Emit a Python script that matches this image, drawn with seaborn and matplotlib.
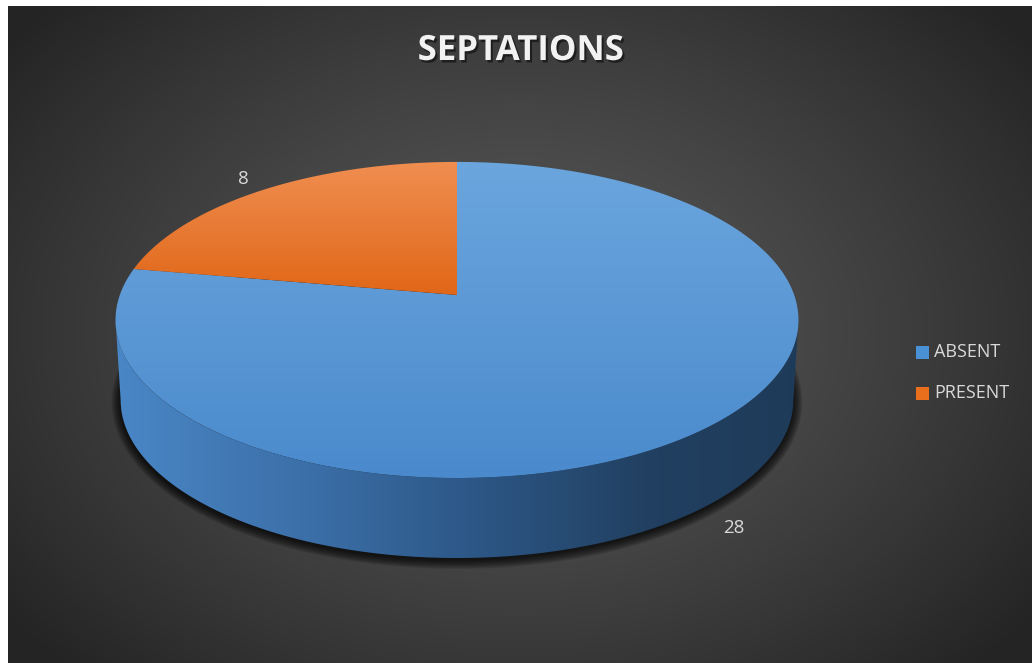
import numpy as np
import matplotlib
matplotlib.use("Agg")
import matplotlib.pyplot as plt
import matplotlib.patheffects as pe
from matplotlib.patches import Polygon, Rectangle
import seaborn as sns

# ---- data ----
categories = ["ABSENT", "PRESENT"]
counts = [28, 8]
title_text = "SEPTATIONS"

sns.set_theme(style="white")
plt.rcParams["font.family"] = ["Open Sans", "DejaVu Sans"]

W, H = 1032, 663
fig = plt.figure(figsize=(W / 100, H / 100), dpi=100)
fig.patch.set_facecolor("white")
ax = fig.add_axes([0, 0, 1, 1])
ax.set_xlim(0, W)
ax.set_ylim(H, 0)
ax.set_axis_off()

# ---- radial background panel ----
x0, y0 = 8, 6
gx, gy = np.meshgrid(np.linspace(x0, W, 400), np.linspace(y0, H, 300))
rr = np.sqrt(((gx - 520) / 640) ** 2 + ((gy - 330) / 470) ** 2)
val = 0.345 - (0.345 - 0.145) * np.clip(rr, 0, 1) ** 1.3
bg = np.dstack([val, val, val])
ax.imshow(bg, extent=(x0, W, H, y0), interpolation="bicubic", zorder=0, aspect="auto")

# ---- perspective disc geometry ----
cx, cy = 457.0, 295.0          # projected centre of the pie top
A, B, c = 337.2, 154.1, -0.158  # projective terms (x radius, y radius, depth warp)
depth, shrink = 80.0, 0.985


def project(theta_deg, r=1.0, dy=0.0, sx=1.0):
    t = np.radians(theta_deg)
    u, v = r * np.sin(t), -r * np.cos(t)
    d = 1 + c * v
    return cx + sx * A * u / d, cy + dy + B * v / d


def outline(t0, t1, n=200, **kw):
    th = np.linspace(t0, t1, n)
    x, y = project(th, **kw)
    return np.column_stack([x, y])


# silhouette angles (leftmost / rightmost points of the ellipse)
t_right = np.degrees(np.arccos(c))
t_left = 360 - t_right

# ---- soft shadow beneath the disc ----
base = outline(0, 360, 400, dy=depth + 2, sx=shrink)
nx = np.roll(base[:, 1], -1) - np.roll(base[:, 1], 1)
ny = -(np.roll(base[:, 0], -1) - np.roll(base[:, 0], 1))
nn = np.hypot(nx, ny)
nx, ny = nx / nn, ny / nn
if np.mean((base[:, 0] - cx) * nx + (base[:, 1] - (cy + depth)) * ny) < 0:
    nx, ny = -nx, -ny
for k in np.linspace(9, 0, 12):
    pts = np.column_stack([base[:, 0] + nx * k, base[:, 1] + ny * k])
    ax.add_patch(Polygon(pts, closed=True, facecolor="black", edgecolor="none",
                         alpha=0.085, zorder=1))

# ---- side wall (front half) ----
side_top = outline(t_right, t_left, 200)
side_bot = outline(t_left, t_right, 200, dy=depth, sx=shrink)
side = Polygon(np.vstack([side_top, side_bot]), closed=True, facecolor="none",
               edgecolor="none", zorder=2)
ax.add_patch(side)
sxs = np.linspace(0, 1, 300)
stops = np.array([[0.29, 0.53, 0.78], [0.23, 0.43, 0.65], [0.18, 0.35, 0.54],
                  [0.13, 0.25, 0.38], [0.12, 0.23, 0.35]])
pos = np.array([0.0, 0.3, 0.5, 0.78, 1.0])
side_cols = np.column_stack([np.interp(sxs, pos, stops[:, i]) for i in range(3)])
side_img = ax.imshow(side_cols[np.newaxis, :, :], extent=(112, 802, 585, 300),
                     aspect="auto", interpolation="bilinear", zorder=2)
side_img.set_clip_path(side)

# ---- top faces of the slices (each with its own vertical gradient) ----
top_grads = {
    "ABSENT": ([0.42, 0.65, 0.87], [0.29, 0.54, 0.80]),
    "PRESENT": ([0.94, 0.56, 0.32], [0.88, 0.40, 0.09]),
}
legend_cols = {"ABSENT": "#4a90d4", "PRESENT": "#ea6f1c"}
total = float(sum(counts))
start = 0.0
mids = []
for name, val_ in zip(categories, counts):
    span = 360.0 * val_ / total
    arc = outline(start, start + span, 200)
    pts = np.vstack([[cx, cy], arc])
    wedge = Polygon(pts, closed=True, facecolor="none", edgecolor="none", zorder=3)
    ax.add_patch(wedge)
    c_top, c_bot = top_grads[name]
    ys = np.linspace(0, 1, 200)
    grad = np.outer(1 - ys, c_top) + np.outer(ys, c_bot)
    xmin, xmax = pts[:, 0].min() - 2, pts[:, 0].max() + 2
    ymin, ymax = pts[:, 1].min() - 2, pts[:, 1].max() + 2
    img = ax.imshow(grad[:, np.newaxis, :], extent=(xmin, xmax, ymax, ymin),
                    aspect="auto", interpolation="bilinear", zorder=3)
    img.set_clip_path(wedge)
    mids.append(start + span / 2)
    start += span

# ---- value labels outside each slice ----
for val_, mid in zip(counts, mids):
    front = -np.cos(np.radians(mid)) > 0
    lx, ly = project(mid, r=1.12, dy=depth if front else 0.0,
                     sx=shrink if front else 1.0)
    ax.text(lx, ly, str(val_), color="#d9d9d9", fontsize=13.5,
            ha="center", va="center", zorder=5)

# ---- title ----
ax.text(521, 51, title_text, color="#f2f2f2", fontsize=25, fontweight="bold",
        ha="center", va="center", zorder=6,
        path_effects=[pe.withSimplePatchShadow(offset=(1.5, -1.8), shadow_rgbFace="black",
                                               alpha=0.5)])

# ---- legend ----
for i, name in enumerate(categories):
    ly = 352 + i * 41
    ax.add_patch(Rectangle((916, ly - 6.5), 13, 13, facecolor=legend_cols[name],
                           edgecolor="none", zorder=6))
    ax.text(934, ly, name, color="#d9d9d9", fontsize=13, ha="left",
            va="center", zorder=6)

fig.savefig("out.png", dpi=100, facecolor="white")
